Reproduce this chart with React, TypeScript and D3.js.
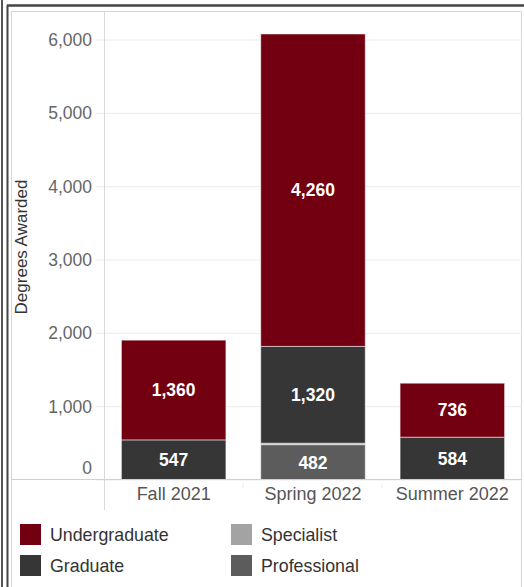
import * as d3 from "d3";

const terms = ["Fall 2021", "Spring 2022", "Summer 2022"];
const levels = ["Professional", "Specialist", "Graduate", "Undergraduate"];
const professional = [0, 482, 0];
const specialist = [0, 20, 0];
const graduate = [547, 1320, 584];
const undergraduate = [1360, 4260, 736];
const yTicks = [0, 1000, 2000, 3000, 4000, 5000, 6000];
const legendItems = ["Undergraduate", "Graduate", "Specialist", "Professional"];

const colors: Record<string, string> = {
  Undergraduate: "#730010",
  Graduate: "#363636",
  Specialist: "#a3a3a3",
  Professional: "#5c5c5c",
};

const W = 524;
const H = 587;
const font = "'Liberation Sans', Arial, sans-serif";

export default function App() {
  const rows = terms.map((t, i) => ({
    term: t,
    Professional: professional[i],
    Specialist: specialist[i],
    Graduate: graduate[i],
    Undergraduate: undergraduate[i],
  }));

  const x = d3
    .scaleBand<string>()
    .domain(terms)
    .range([104, 522])
    .paddingInner(0.25)
    .paddingOuter(0.125);
  const y = d3.scaleLinear().domain([0, 6000]).range([480, 40]);

  const stacked = d3.stack<any>().keys(levels)(rows);
  const fmt = d3.format(",");

  return (
    <svg
      width={W}
      height={H}
      style={{ position: "absolute", left: 0, top: 0, background: "#fff" }}
      fontFamily={font}
    >
      {/* outer frame */}
      <rect x={0} y={0} width={W} height={H} fill="#fff" />
      <line x1={2} x2={2} y1={0} y2={H} stroke="#555" strokeWidth={2} />
      <line x1={7.5} x2={7.5} y1={5} y2={H} stroke="#444" strokeWidth={2} />
      <line x1={7} x2={W} y1={5.5} y2={5.5} stroke="#444" strokeWidth={2.5} />
      <rect x={11.5} y={11.5} width={510} height={H} fill="none" stroke="#d6d6d6" />

      {/* gridlines */}
      {yTicks.map((t) => (
        <line
          key={t}
          x1={96}
          x2={522}
          y1={y(t)}
          y2={y(t)}
          stroke="#ececec"
        />
      ))}
      <line x1={104.5} x2={104.5} y1={12} y2={510} stroke="#d9d9d9" />
      <line x1={243} x2={243} y1={482} y2={488} stroke="#eee" />
      <line x1={382} x2={382} y1={482} y2={488} stroke="#eee" />

      {/* y tick labels */}
      {yTicks.map((t) => (
        <text
          key={t}
          x={92}
          y={t === 0 ? y(t) - 12 : y(t)}
          dy="0.35em"
          textAnchor="end"
          fontSize={17.5}
          fill="#666"
        >
          {fmt(t)}
        </text>
      ))}
      <text
        transform={`translate(27,247) rotate(-90)`}
        textAnchor="middle"
        fontSize={17}
        fill="#333"
      >
        Degrees Awarded
      </text>

      {/* bars */}
      {stacked.map((s) =>
        s.map((d, i) => {
          const h = y(d[0]) - y(d[1]);
          if (h <= 0) return null;
          const xx = x(terms[i])!;
          const v = d[1] - d[0];
          return (
            <g key={s.key + i}>
              <rect
                x={xx}
                y={y(d[1])}
                width={x.bandwidth()}
                height={h}
                fill={colors[s.key]}
                stroke="#fff"
                strokeOpacity={0.5}
                strokeWidth={1}
              />
              {h > 20 && (
                <text
                  x={xx + x.bandwidth() / 2}
                  y={(y(d[0]) + y(d[1])) / 2}
                  dy="0.36em"
                  textAnchor="middle"
                  fontSize={17.5}
                  fontWeight="bold"
                  fill="#fff"
                >
                  {fmt(v)}
                </text>
              )}
            </g>
          );
        })
      )}

      {/* x axis */}
      <line x1={12} x2={522} y1={479.5} y2={479.5} stroke="#d0d0d0" />
      {terms.map((t) => (
        <text
          key={t}
          x={x(t)! + x.bandwidth() / 2}
          y={494}
          dy="0.35em"
          textAnchor="middle"
          fontSize={18}
          fill="#555"
        >
          {t}
        </text>
      ))}

      {/* legend */}
      {legendItems.map((k, i) => {
        const lx = i < 2 ? 20 : 231;
        const ly = i % 2 === 0 ? 524 : 555;
        return (
          <g key={k}>
            <rect x={lx} y={ly} width={21} height={21} fill={colors[k]} />
            <text x={lx + 30} y={ly + 10.5} dy="0.35em" fontSize={17.8} fill="#333">
              {k}
            </text>
          </g>
        );
      })}
    </svg>
  );
}
